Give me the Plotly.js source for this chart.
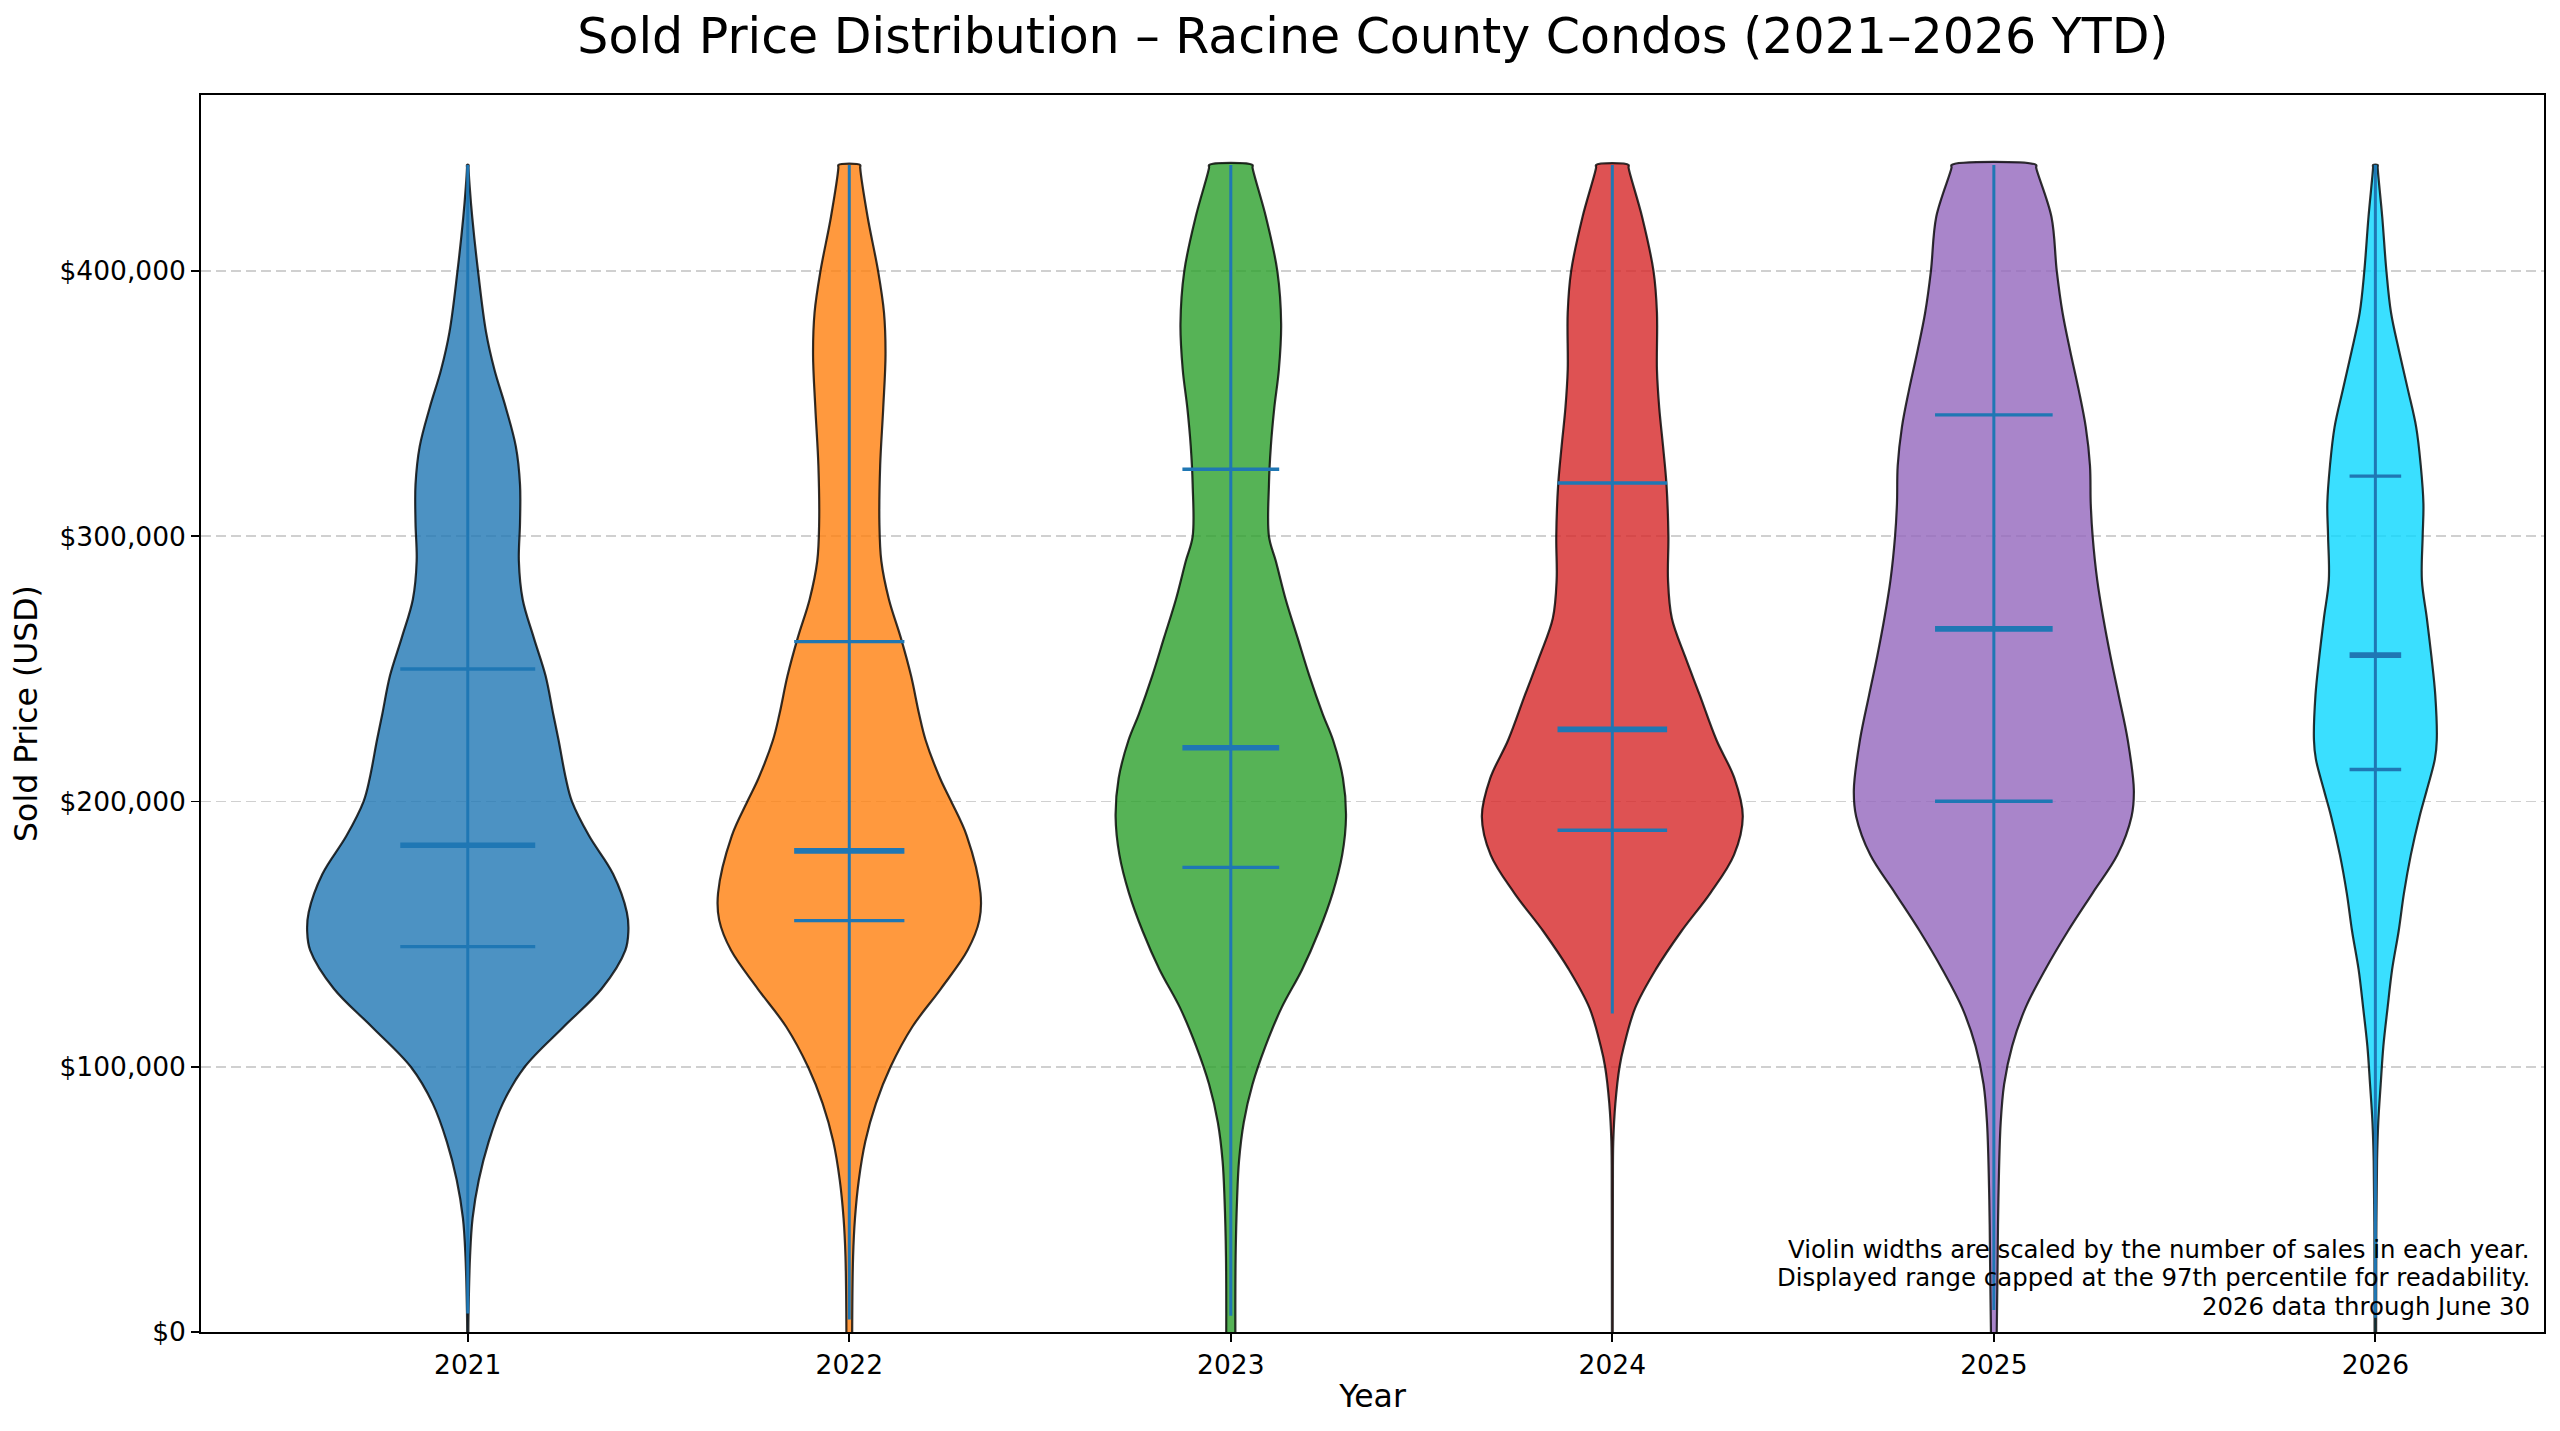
<!DOCTYPE html>
<html>
<head>
<meta charset="utf-8">
<script src="https://cdn.plot.ly/plotly-3.0.1.min.js"></script>
<style>html,body{margin:0;padding:0;background:#fff;}#chart{width:2560px;height:1431px;}</style>
</head>
<body>
<div id="chart"></div>
<script>
// ---------- data ----------
const years = ['2021', '2022', '2023', '2024', '2025', '2026'];

// density profile (violin half-width) at price levels, per year
const levels2021  = [0, 7000, 28500, 42900, 57300, 71800, 86200, 99900, 115000, 129400, 143900, 151100, 158300, 172700, 187100, 200100, 208800, 223200, 233000, 247400, 261800, 276200, 290700, 305100, 319500, 333900, 348400, 362800, 377000, 400000, 420000, 432000, 440000];
const density2021 = [0.0015, 0.002, 0.006, 0.0127, 0.029, 0.055, 0.092, 0.149, 0.251, 0.351, 0.413, 0.421, 0.417, 0.381, 0.318, 0.273, 0.257, 0.238, 0.224, 0.204, 0.173, 0.144, 0.134, 0.137, 0.137, 0.126, 0.100, 0.070, 0.048, 0.027, 0.012, 0.005, 0.002];

const levels2022  = [0, 28500, 42900, 57300, 71800, 86200, 99900, 115000, 129400, 143900, 155300, 165500, 187100, 200100, 208800, 223200, 233000, 247400, 261800, 276200, 290700, 305100, 326700, 348400, 368600, 384400, 400000, 420500, 440000];
const density2022 = [0.0076, 0.010, 0.015, 0.025, 0.042, 0.070, 0.108, 0.165, 0.240, 0.310, 0.341, 0.344, 0.308, 0.267, 0.238, 0.200, 0.183, 0.162, 0.135, 0.104, 0.084, 0.079, 0.081, 0.089, 0.095, 0.091, 0.0756, 0.048, 0.0286];

const levels2023  = [0, 28500, 50100, 64500, 79000, 93400, 107800, 122200, 136700, 151100, 165500, 179900, 194400, 208800, 223200, 233000, 247400, 261800, 276200, 290700, 300000, 319500, 333900, 348400, 362800, 380000, 400000, 420500, 440000];
const density2023 = [0.012, 0.0127, 0.0165, 0.0216, 0.034, 0.057, 0.091, 0.133, 0.187, 0.231, 0.267, 0.292, 0.302, 0.294, 0.268, 0.241, 0.206, 0.175, 0.144, 0.118, 0.100, 0.100, 0.105, 0.114, 0.126, 0.132, 0.122, 0.092, 0.057];

const levels2024  = [0, 50000, 71800, 86200, 100000, 107800, 122200, 136700, 151100, 165500, 179900, 194400, 208800, 223200, 240200, 254600, 269100, 283500, 300000, 319500, 333900, 348400, 362800, 384400, 400000, 420500, 440000];
const density2024 = [0.001, 0.0015, 0.0025, 0.008, 0.019, 0.0305, 0.060, 0.114, 0.181, 0.257, 0.319, 0.342, 0.320, 0.273, 0.229, 0.191, 0.156, 0.146, 0.147, 0.142, 0.133, 0.123, 0.117, 0.117, 0.108, 0.078, 0.0426];

const levels2025  = [0, 21300, 50100, 79000, 93400, 107800, 122200, 136700, 151100, 165500, 179900, 194400, 204400, 223200, 240200, 254600, 269100, 283500, 300000, 312300, 326700, 341200, 355500, 370000, 384400, 400000, 420500, 440000];
const density2025 = [0.0076, 0.0095, 0.012, 0.018, 0.027, 0.048, 0.083, 0.135, 0.194, 0.259, 0.324, 0.361, 0.367, 0.351, 0.327, 0.306, 0.287, 0.271, 0.259, 0.254, 0.252, 0.241, 0.222, 0.200, 0.180, 0.165, 0.151, 0.111];

const levels2026  = [0, 35600, 64500, 79000, 93400, 107800, 122200, 136700, 151100, 165500, 179900, 194400, 204400, 216000, 223200, 240200, 254600, 269100, 283500, 300000, 312300, 326700, 341200, 355500, 370000, 384400, 400000, 420500, 440000];
const density2026 = [0.002, 0.0025, 0.0044, 0.0076, 0.014, 0.021, 0.032, 0.044, 0.061, 0.075, 0.093, 0.116, 0.135, 0.156, 0.161, 0.157, 0.147, 0.135, 0.122, 0.124, 0.126, 0.119, 0.107, 0.085, 0.062, 0.041, 0.029, 0.018, 0.006];

// summary statistics
const q1Values     = [145300, 155100, 175200, 189200, 200100, 212100];
const medianValues = [183500, 181400, 220300, 227200, 265100, 255200];
const q3Values     = [250000, 260300, 325300, 320100, 345800, 322700];
const minValues    = [7000, 4700, 6100, 120100, 8300, 5400];
const maxValues    = [440000, 440000, 440000, 440000, 440000, 440000];

const yTickValues = [0, 100000, 200000, 300000, 400000];
const yTickLabels = ['$0', '$100,000', '$200,000', '$300,000', '$400,000'];

const noteLines = [
  'Violin widths are scaled by the number of sales in each year.',
  'Displayed range capped at the 97th percentile for readability.',
  '2026 data through June 30'
];

// ---------- styling ----------
const fillColors = [
  'rgba(31,119,180,0.8)',
  'rgba(255,127,14,0.8)',
  'rgba(44,160,44,0.8)',
  'rgba(214,39,40,0.8)',
  'rgba(148,103,189,0.8)',
  'rgba(9,215,255,0.8)'
];
const statColor = '#1f77b4';
const FONT = 'DejaVu Sans, Liberation Sans, sans-serif';
const CAP_SHOULDER = 1000; // keeps the capped top edge flat when the outline is smoothed

const levelSets = [levels2021, levels2022, levels2023, levels2024, levels2025, levels2026];
const densitySets = [density2021, density2022, density2023, density2024, density2025, density2026];

const traces = [];
years.forEach((yr, i) => {
  const lv = levelSets[i], dn = densitySets[i];
  const n = lv.length;
  const xs = [], ys = [];
  // right side, bottom to top
  for (let k = 0; k < n; k++) {
    if (k === n - 1) { xs.push(i + dn[k]); ys.push(lv[k] - CAP_SHOULDER); }
    xs.push(i + dn[k]); ys.push(lv[k]);
  }
  // left side, top to bottom
  for (let k = n - 1; k >= 0; k--) {
    xs.push(i - dn[k]); ys.push(lv[k]);
    if (k === n - 1) { xs.push(i - dn[k]); ys.push(lv[k] - CAP_SHOULDER); }
  }
  traces.push({
    type: 'scatter', mode: 'lines', x: xs, y: ys,
    fill: 'toself', fillcolor: fillColors[i],
    line: {color: 'rgba(0,0,0,0.8)', width: 2.2, shape: 'spline', smoothing: 1.0, simplify: false},
    hoverinfo: 'skip', showlegend: false, name: yr
  });
});

years.forEach((yr, i) => {
  const half = 0.42 * Math.max(...densitySets[i]);
  // vertical bar
  traces.push({
    type: 'scatter', mode: 'lines', x: [i, i], y: [minValues[i], maxValues[i]],
    line: {color: statColor, width: 3}, hoverinfo: 'skip', showlegend: false
  });
  // quartiles
  [q1Values[i], q3Values[i]].forEach(q => {
    traces.push({
      type: 'scatter', mode: 'lines', x: [i - half, i + half], y: [q, q],
      line: {color: statColor, width: 3.4}, hoverinfo: 'skip', showlegend: false
    });
  });
  // median
  traces.push({
    type: 'scatter', mode: 'lines', x: [i - half, i + half], y: [medianValues[i], medianValues[i]],
    line: {color: statColor, width: 5.6}, hoverinfo: 'skip', showlegend: false
  });
});

const noteY = [0.0664, 0.0438, 0.0204];
const annotations = noteLines.map((t, k) => ({
  text: t, xref: 'paper', yref: 'paper', x: 0.9945, y: noteY[k],
  xanchor: 'right', yanchor: 'middle', showarrow: false, borderpad: 0,
  font: {family: FONT, size: 24.4, color: '#000'}
}));

const layout = {
  width: 2560, height: 1431,
  margin: {l: 201, r: 16, t: 95, b: 99, pad: 0},
  paper_bgcolor: '#ffffff', plot_bgcolor: '#ffffff',
  font: {family: FONT, color: '#000'},
  title: {
    text: 'Sold Price Distribution – Racine County Condos (2021–2026 YTD)',
    font: {family: FONT, size: 49, color: '#000'},
    x: 0.5363, xanchor: 'center', y: 0.9748, yanchor: 'middle'
  },
  xaxis: {
    range: [-0.6992, 5.442],
    tickvals: years.map((_, i) => i), ticktext: years,
    showgrid: false, zeroline: false,
    showline: true, mirror: true, linecolor: '#000', linewidth: 1.8,
    ticks: 'outside', ticklen: 8, tickwidth: 1.8, tickcolor: '#000',
    tickfont: {family: FONT, size: 26.5, color: '#000'},
    title: {text: 'Year', font: {family: FONT, size: 31.5, color: '#000'}, standoff: 6}
  },
  yaxis: {
    range: [0, 466400],
    tickvals: yTickValues, ticktext: yTickLabels,
    showgrid: true, gridcolor: '#d0d0d0', gridwidth: 1.8, griddash: '10px,5px',
    zeroline: false,
    showline: true, mirror: true, linecolor: '#000', linewidth: 1.8,
    ticks: 'outside', ticklen: 8, tickwidth: 1.8, tickcolor: '#000',
    tickfont: {family: FONT, size: 26.5, color: '#000'},
    title: {text: 'Sold Price (USD)', font: {family: FONT, size: 31.5, color: '#000'}, standoff: 12}
  },
  annotations: annotations
};

Plotly.newPlot('chart', traces, layout, {staticPlot: true, displayModeBar: false});
</script>
</body>
</html>
